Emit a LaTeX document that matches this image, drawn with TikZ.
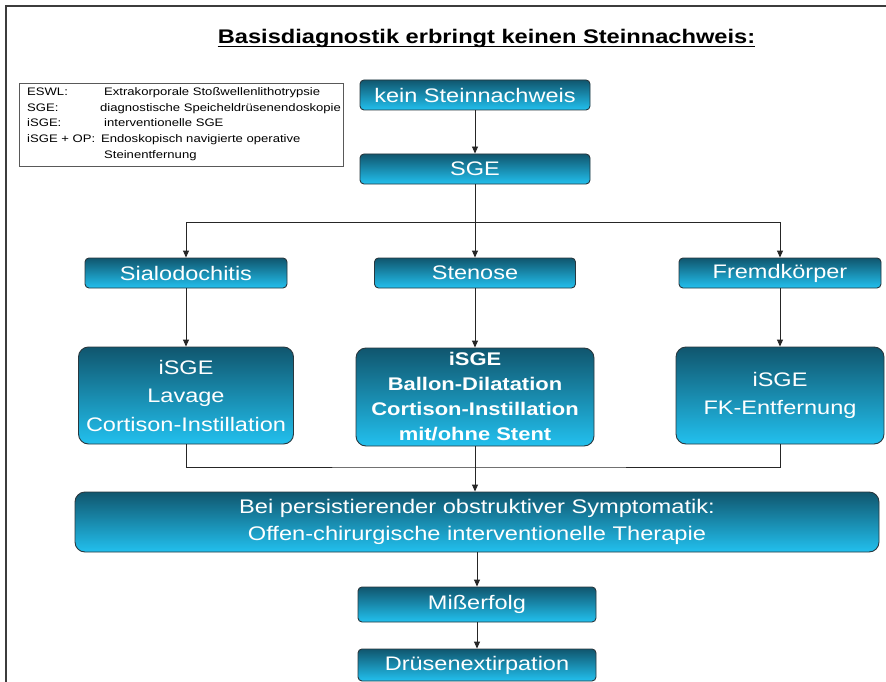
\documentclass[tikz,border=0pt]{standalone}
\usepackage{fontspec}
\newfontfamily\arialx[FakeStretch=1.2]{Liberation Sans}
\usetikzlibrary{arrows.meta}
\definecolor{boxtop}{RGB}{16,86,110}
\definecolor{boxbot}{RGB}{34,192,238}
\definecolor{boxline}{RGB}{40,55,62}
\definecolor{frameline}{RGB}{60,60,60}
\tikzset{
  flowbox/.style={draw=boxline, line width=0.9pt, rounded corners=4pt,
    top color=boxtop, bottom color=boxbot, text=white, inner sep=0pt,
    align=center, font=\arialx\fontsize{19.6}{28.5}\selectfont},
  bigbox/.style={flowbox, rounded corners=10pt},
  conn/.style={draw=black!85, line width=0.9pt},
  arr/.style={conn, -{Triangle[length=7pt,width=6pt]}},
  legtext/.style={anchor=west, inner sep=0pt, font=\arialx\fontsize{10.9}{13}\selectfont,
    text height=8pt, text depth=2pt},
  legendbox/.style={draw=black!65, line width=0.8pt, inner sep=0pt},
  titletext/.style={inner sep=0pt, font=\arialx\bfseries\fontsize{19.7}{24}\selectfont},
}
\begin{document}
\begin{tikzpicture}[x=1pt,y=-1pt]
\useasboundingbox (0,0) rectangle (886,682);
\fill[white] (0,0) rectangle (886,682);
\draw[frameline, line width=1.2pt] (6,682) -- (6,6) -- (886,6);

% title
\node[titletext, anchor=base] (title) at (486.5,44) {Basisdiagnostik erbringt keinen Steinnachweis:};
\draw[line width=1.3pt] ([yshift=-2.5pt]title.base west) -- ([yshift=-2.5pt]title.base east);

% legend
\node[legendbox, minimum width=324pt, minimum height=83pt] (legend) at (181,124.5) {};
\node[legtext] (l1a) at (27,93) {ESWL:};
\node[legtext] (l1b) at (104,93) {Extrakorporale Stoßwellenlithotrypsie};
\node[legtext] (l2a) at (27,108.5) {SGE:};
\node[legtext] (l2b) at (100,108.5) {diagnostische Speicheldrüsenendoskopie};
\node[legtext] (l3a) at (27,124) {iSGE:};
\node[legtext] (l3b) at (104,124) {interventionelle SGE};
\node[legtext] (l4a) at (27,139.5) {iSGE + OP:};
\node[legtext] (l4b) at (101,139.5) {Endoskopisch navigierte operative};
\node[legtext] (l5b) at (104,155) {Steinentfernung};

% boxes
\node[flowbox, minimum width=230pt, minimum height=30pt] (kein) at (475,95) {kein Steinnachweis};
\node[flowbox, minimum width=230pt, minimum height=30pt] (sge) at (475,169) {SGE};
\node[flowbox, minimum width=202pt, minimum height=30pt] (sial) at (186,273) {Sialodochitis};
\node[flowbox, minimum width=201pt, minimum height=30pt] (sten) at (475,273) {Stenose};
\node[flowbox, minimum width=202pt, minimum height=30pt] (fremd) at (780,273) {Fremdkörper};
\node[bigbox, minimum width=215pt, minimum height=97pt] (lav) at (186,395.5) {iSGE\\Lavage\\Cortison-Instillation};
\node[bigbox, minimum width=238pt, minimum height=98pt,
  font=\arialx\bfseries\fontsize{18.3}{25}\selectfont] (bal) at (475,397)
  {iSGE\\Ballon-Dilatation\\Cortison-Instillation\\mit/ohne Stent};
\node[bigbox, minimum width=208pt, minimum height=97pt] (fk) at (780,395.5) {iSGE\\FK-Entfernung};
\node[bigbox, minimum width=804pt, minimum height=60pt,
  font=\arialx\fontsize{19.7}{27}\selectfont] (big) at (477,522)
  {Bei persistierender obstruktiver Symptomatik:\\Offen-chirurgische interventionelle Therapie};
\node[flowbox, minimum width=238pt, minimum height=35pt] (mis) at (477,604.5) {Mißerfolg};
\node[flowbox, minimum width=238pt, minimum height=32pt] (drus) at (477,665) {Drüsenextirpation};

% connectors
\coordinate (split) at (475,222);
\coordinate (join) at (475,467);
\draw[arr] (kein) -- (sge);
\draw[conn] (sge) -- (split);
\draw[arr] (split) -| (sial.north);
\draw[arr] (split) -| (fremd.north);
\draw[arr] (split) -- (sten.north);
\draw[arr] (sial) -- (lav);
\draw[arr] (sten) -- (bal);
\draw[arr] (fremd) -- (fk);
\draw[conn] (lav.south) |- (join) -| (fk.south);
\draw[arr] (bal.south) -- (big.north -| bal.south);
\draw[arr] (big.south -| mis.north) -- (mis.north);
\draw[arr] (mis) -- (drus);
\end{tikzpicture}
\end{document}
